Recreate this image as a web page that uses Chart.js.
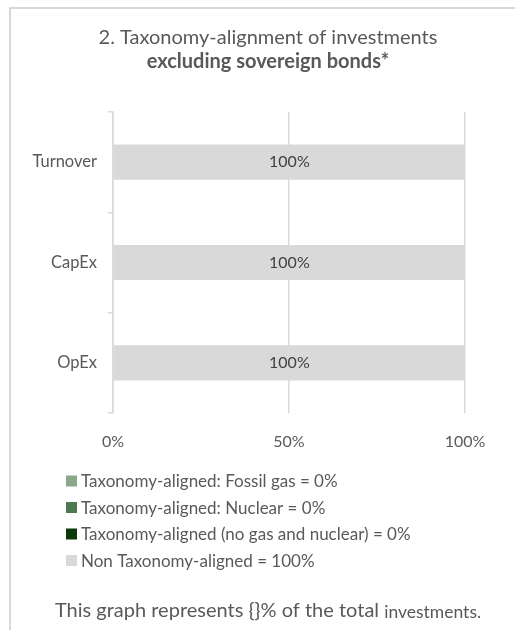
<!DOCTYPE html>
<html>
<head>
<meta charset="utf-8">
<script src="https://cdn.jsdelivr.net/npm/chart.js@4"></script>
<style>
  body { margin: 0; background: #fff; }
  #wrap { position: relative; width: 515px; height: 630px; overflow: hidden; }
  #frame {
    position: absolute; left: 9px; top: 7px; width: 600px; height: 700px;
    border-left: 2px solid #d9d9d9; border-top: 2px solid #d9d9d9;
  }
  canvas { position: absolute; left: 0; top: 0; }
</style>
</head>
<body>
<div id="wrap">
  <div id="frame"></div>
  <canvas id="myChart" width="515" height="630"></canvas>
</div>
<script>
const categories = ['Turnover', 'CapEx', 'OpEx'];
const fossilGas = [0, 0, 0];
const nuclear = [0, 0, 0];
const alignedOther = [0, 0, 0];
const nonAligned = [100, 100, 100];
const xTickValues = [0, 50, 100];
const seriesLabels = [
  'Taxonomy-aligned: Fossil gas = 0%',
  'Taxonomy-aligned: Nuclear = 0%',
  'Taxonomy-aligned (no gas and nuclear) = 0%',
  'Non Taxonomy-aligned = 100%'
];
const seriesColors = ['#8aa78a', '#4f7a51', '#0a3a0a', '#d9d9d9'];
const titleLines = ['2. Taxonomy-alignment of investments', 'excluding sovereign bonds*'];

const FONT = 'Lato, "Open Sans", sans-serif';
const TEXT = '#595959';

// two-line heading, centred on the framed panel
const heading = {
  id: 'heading',
  afterDraw(chart) {
    const ctx = chart.ctx;
    ctx.save();
    ctx.fillStyle = TEXT;
    ctx.textAlign = 'center';
    ctx.textBaseline = 'middle';
    ctx.font = '20px ' + FONT;
    ctx.fillText(titleLines[0], 268, 38);
    ctx.font = 'bold 20px ' + FONT;
    ctx.fillText(titleLines[1], 268, 62);
    ctx.restore();
  }
};

// writes the value in the middle of every non-empty bar
const barLabels = {
  id: 'barLabels',
  afterDatasetsDraw(chart) {
    const ctx = chart.ctx;
    ctx.save();
    ctx.font = '16px ' + FONT;
    ctx.fillStyle = '#404040';
    ctx.textAlign = 'center';
    ctx.textBaseline = 'middle';
    chart.data.datasets.forEach((ds, i) => {
      chart.getDatasetMeta(i).data.forEach((bar, j) => {
        const v = ds.data[j];
        if (!v) return;
        ctx.fillText(v + '%', (bar.x + bar.base) / 2, bar.y);
      });
    });
    ctx.restore();
  }
};

// one legend entry per line under the axis, then the note
const sideLegend = {
  id: 'sideLegend',
  afterDraw(chart) {
    const ctx = chart.ctx;
    ctx.save();
    ctx.font = '17px ' + FONT;
    ctx.textBaseline = 'middle';
    chart.data.datasets.forEach((ds, i) => {
      const y = 481 + i * 26.5;
      ctx.fillStyle = ds.backgroundColor;
      ctx.fillRect(66, y - 5.5, 11, 11);
      ctx.fillStyle = TEXT;
      ctx.fillText(ds.label, 81, y + 1);
    });
    const a = 'This graph represents {}% of the total ';
    const b = 'investments.';
    ctx.font = '20px ' + FONT;
    const wa = ctx.measureText(a).width;
    ctx.font = '17.5px ' + FONT;
    const wb = ctx.measureText(b).width;
    const x = 268 - (wa + wb) / 2;
    ctx.font = '20px ' + FONT;
    ctx.fillText(a, x, 611);
    ctx.font = '17.5px ' + FONT;
    ctx.fillText(b, x + wa, 612);
    ctx.restore();
  }
};

const datasets = [fossilGas, nuclear, alignedOther, nonAligned].map((values, i) => ({
  label: seriesLabels[i],
  data: values,
  backgroundColor: seriesColors[i],
  borderWidth: 0,
  barPercentage: 0.35,
  categoryPercentage: 1
}));

const ctx = document.getElementById('myChart').getContext('2d');
new Chart(ctx, {
  type: 'bar',
  data: { labels: categories, datasets: datasets },
  options: {
    indexAxis: 'y',
    responsive: false,
    animation: false,
    layout: { padding: { left: 10, right: 50, top: 112, bottom: 172 } },
    plugins: {
      legend: { display: false },
      tooltip: { enabled: false }
    },
    scales: {
      x: {
        stacked: true,
        min: 0,
        max: 100,
        afterBuildTicks(scale) {
          scale.ticks = xTickValues.map(v => ({ value: v }));
        },
        afterFit(scale) { scale.height = 45; },
        grid: { color: '#d9d9d9', lineWidth: 1.5, drawTicks: false },
        border: { display: false },
        ticks: {
          color: TEXT,
          padding: 19,
          font: { family: FONT, size: 16 },
          callback: v => v + '%'
        }
      },
      y: {
        stacked: true,
        afterFit(scale) { scale.width = 103; },
        grid: { offset: true, drawOnChartArea: false, drawTicks: true, tickLength: 5, color: '#d9d9d9', lineWidth: 1.5 },
        border: { display: true, color: '#d9d9d9', width: 1.5 },
        ticks: {
          color: TEXT,
          padding: 11,
          font: { family: FONT, size: 16.5 }
        }
      }
    }
  },
  plugins: [heading, barLabels, sideLegend]
});
</script>
</body>
</html>
